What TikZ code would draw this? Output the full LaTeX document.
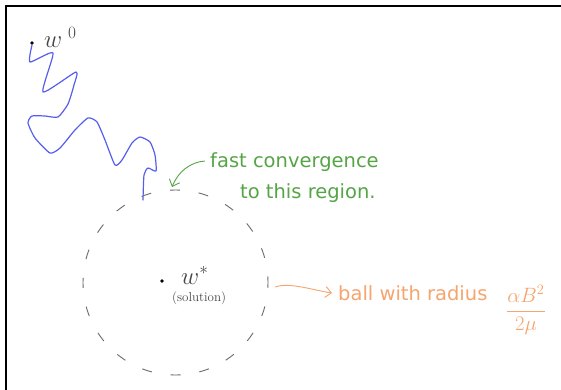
\documentclass[tikz,border=0pt]{standalone}
\usepackage{fontspec}
\newfontfamily\handfont{DejaVu Sans}
\usetikzlibrary{arrows.meta}
\definecolor{penblue}{RGB}{85,95,235}
\definecolor{pengreen}{RGB}{85,165,70}
\definecolor{penorange}{RGB}{245,165,110}
\definecolor{pengray}{RGB}{70,70,70}
\definecolor{dashgray}{RGB}{105,105,105}
\tikzset{
  label text/.style={inner sep=0pt, anchor=base west},
  hand text/.style={label text, font=\handfont\fontsize{19.5}{22}\selectfont},
  hand arrow/.style={line width=0.9pt, -{Straight Barb[length=6pt,width=11pt]}},
}
\begin{document}
\begin{tikzpicture}[x=1pt,y=-1pt]
\useasboundingbox (0,0) rectangle (561,390);
\fill[white] (0,0) rectangle (561,390);
% frame
\draw[line width=2pt] (6,390) -- (6,6) -- (561,6);
% start point
\fill[black] (32,43) circle (1.8);
\node[label text, text=pengray, font=\fontsize{24}{26}\selectfont] (w0) at (44,48) {$w^{\,\,0}$};
% blue trajectory
\draw[penblue, line width=1.2pt, line join=round, line cap=round]
  plot[smooth, tension=0.35] coordinates {
  (32,45) (30,62) (53,53) (43,92) (76,72) (74,85) (68,104) (58,117)
  (45,116) (32,116) (28,123) (35,138) (50,153) (60,148) (75,130) (88,118)
  (97,122) (105,140) (115,165) (122,160) (132,143) (140,137) (150,142)
  (155,155) (156,171) (148,168) (144,175) (143,200)};
% dashed ball
\node[circle, minimum size=185pt, inner sep=0pt, draw=dashgray, line width=0.9pt,
      dash pattern=on 10pt off 19pt, dash phase=4pt] (ball) at (175.5,282.5) {};
% solution
\fill[black] (162,281) circle (1.8);
\node[label text, text=pengray, font=\fontsize{24}{26}\selectfont] (wstar) at (181,284) {$w^{*}$};
\node[label text, text=pengray, font=\fontsize{13}{15}\selectfont] (sol) at (172,301) {(solution)};
% green annotation
\node[hand text, text=pengreen] (fast) at (210,167) {fast convergence};
\node[hand text, text=pengreen] (region) at (240,198) {to this region.};
\coordinate (gstart) at (205,161);
\coordinate (gend) at (172,187);
\draw[pengreen, hand arrow] (gstart) .. controls (190,162) and (178,172) .. (gend);
% orange annotation
\node[hand text, text=penorange] (balltext) at (338,300) {ball with radius};
\node[inner sep=0pt, text=penorange, font=\fontsize{20}{22}\selectfont] (frac) at (526,310) {$\displaystyle\frac{\alpha B^2}{2\mu}$};
\coordinate (ostart) at (275,287);
\coordinate (oend) at (332,293);
\draw[penorange, hand arrow] (ostart) .. controls (290,282) and (312,290) .. (oend);
\end{tikzpicture}
\end{document}
